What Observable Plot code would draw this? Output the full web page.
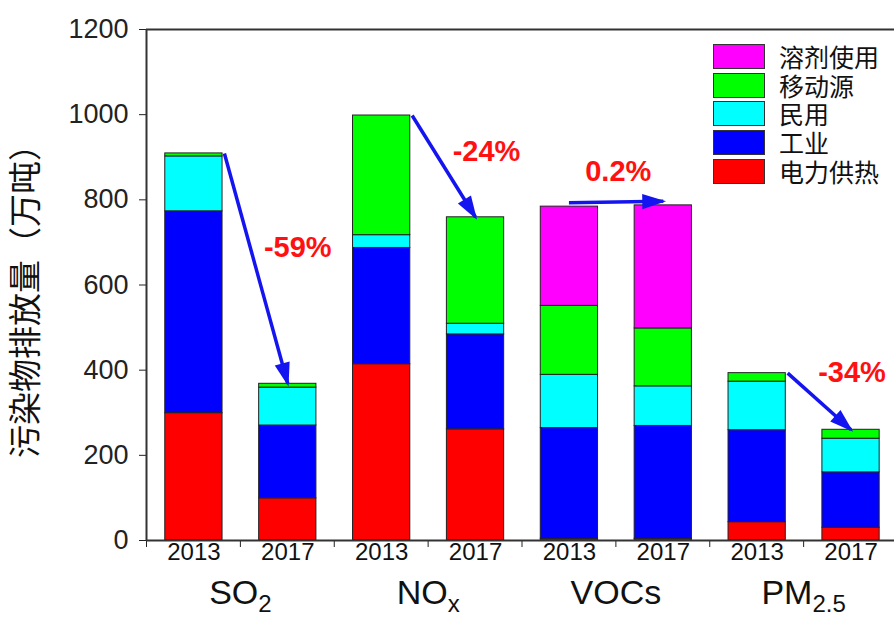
<!DOCTYPE html>
<html>
<head>
<meta charset="utf-8">
<script src="https://cdn.jsdelivr.net/npm/d3@7"></script>
<script src="https://cdn.jsdelivr.net/npm/@observablehq/plot@0.6"></script>
<style>
  body { margin: 0; background: #fff; }
  #wrap { position: relative; width: 894px; height: 626px; overflow: hidden; background: #fff;
          font-family: "Liberation Sans", Arial, "Noto Sans CJK SC", sans-serif; }
  #legend { position: absolute; left: 713px; top: 42px; }
  .row { display: flex; align-items: center; height: 28.75px; }
  .sw { width: 50px; height: 23px; border: 1px solid #333; }
  .lab { margin-left: 14px; font-size: 25px; line-height: 1; color: #111;
         font-family: "Noto Sans CJK SC", sans-serif; }
</style>
</head>
<body>
<div id="wrap"><div id="chart"></div><div id="legend"></div></div>
<script>
// ---------- data ----------
const pollutants = ["SO2", "NOx", "VOCs", "PM2.5"];
const pollutantMain = ["SO", "NO", "VOCs", "PM"];
const pollutantSub = ["2", "x", "", "2.5"];
const years = ["2013", "2017"];
const sectors = ["电力供热", "工业", "民用", "移动源", "溶剂使用"]; // bottom -> top
const sectorColors = ["#ff0000", "#0000ff", "#00ffff", "#00ff00", "#ff00ff"];
// bars in order: SO2 2013, SO2 2017, NOx 2013, NOx 2017, VOCs 2013, VOCs 2017, PM2.5 2013, PM2.5 2017
const power       = [299,  99, 414, 261,   4,   4,  43,  30];
const industry    = [474, 171, 273, 223, 260, 265, 216, 130];
const residential = [129,  89,  30,  25, 125,  93, 114,  79];
const mobile      = [  7,   9, 281, 250, 162, 136,  20,  21];
const solvent     = [  0,   0,   0,   0, 233, 289,   0,   0];
const changeLabels = ["-59%", "-24%", "0.2%", "-34%"];
const yTicks = [0, 200, 400, 600, 800, 1000, 1200];
const yLabel = "污染物排放量（万吨）";

// ---------- derived ----------
const series = [power, industry, residential, mobile, solvent];
const segments = [];
const totals = [];
for (let i = 0; i < power.length; i++) {
  let acc = 0;
  series.forEach((s, k) => {
    if (s[i] > 0) segments.push({i, sector: sectors[k], y1: acc, y2: acc + s[i]});
    acc += s[i];
  });
  totals.push(acc);
}

// ---------- layout (styling only) ----------
const barLeft = 0.2, barRight = 0.81, barMid = 0.505;
const arrowStart = [0.83, 0.83, 0.5, 0.83];   // fraction of band where arrow starts
const arrowLift = [0, 0, -4, 0];              // px
const labelOffset = [[10, -136], [11, -66], [-45, -34], [1, -57]]; // px from 2017 bar top
const arrowColor = "#1414f0";
const gid = d3.range(pollutants.length);

const marks = [
  Plot.rect(segments, {
    x1: d => d.i + barLeft, x2: d => d.i + barRight,
    y1: "y1", y2: "y2", fill: "sector", stroke: "#222", strokeWidth: 1
  }),
  Plot.ruleY([0, 1200], {stroke: "#333", strokeWidth: 2}),
  Plot.ruleX([0], {stroke: "#333", strokeWidth: 2}),
  Plot.text(d3.range(totals.length), {
    x: i => i + barMid, text: i => years[i % 2], frameAnchor: "bottom",
    dy: 19, fontSize: 24, fill: "#111"
  }),
  Plot.text(gid, {
    x: g => 2 * g + 1, text: g => pollutants[g], frameAnchor: "bottom",
    dy: 63, fontSize: 34, fill: "#111"
  }),
  Plot.text([yLabel], {
    text: d => d, frameAnchor: "left", textAnchor: "middle", rotate: -90, dx: -120, dy: 8,
    fontSize: 33, fill: "#111", fontFamily: "Noto Sans CJK SC"
  })
];
gid.forEach(g => {
  marks.push(Plot.link([g], {
    x1: g => 2 * g + arrowStart[g], y1: g => totals[2 * g],
    x2: g => 2 * g + 1 + barMid, y2: g => totals[2 * g + 1],
    stroke: arrowColor, strokeWidth: 3.5, markerEnd: "arrow", dy: arrowLift[g]
  }));
  marks.push(Plot.text([g], {
    x: g => 2 * g + 1 + barMid, y: g => totals[2 * g + 1], text: g => changeLabels[g],
    dx: labelOffset[g][0], dy: labelOffset[g][1],
    fill: "#ff1111", fontSize: 29, fontWeight: "bold"
  }));
});

const chart = Plot.plot({
  width: 894, height: 626,
  marginLeft: 146, marginRight: 0, marginTop: 29, marginBottom: 86,
  x: {domain: [0, 8], range: [146, 897], ticks: d3.range(9), tickFormat: () => "", tickSize: 7, label: null},
  y: {domain: [0, 1200], ticks: yTicks, tickFormat: d => String(d), tickSize: 7, tickPadding: 11, label: null},
  color: {domain: sectors, range: sectorColors},
  style: {fontFamily: "'Liberation Sans', Arial, 'Noto Sans CJK SC', sans-serif", fontSize: "27px",
          color: "#222", background: "white", overflow: "visible"},
  marks
});
document.getElementById("chart").appendChild(chart);

// filled triangular arrow heads
const NS = "http://www.w3.org/2000/svg";
chart.querySelectorAll("marker").forEach(m => {
  const c = m.getAttribute("stroke") || arrowColor;
  m.setAttribute("viewBox", "-6.2 -2.5 7.2 5");
  m.setAttribute("markerWidth", "7.2");
  m.setAttribute("markerHeight", "5");
  m.setAttribute("fill", c);
  m.setAttribute("stroke", "none");
  while (m.firstChild) m.removeChild(m.firstChild);
  const p = document.createElementNS(NS, "path");
  p.setAttribute("d", "M-6,-2.2L0.8,0L-6,2.2Z");
  m.appendChild(p);
});

// subscripts for group labels
chart.querySelectorAll("text").forEach(t => {
  const k = pollutants.indexOf(t.textContent);
  if (k < 0 || !pollutantSub[k]) return;
  t.textContent = "";
  const a = document.createElementNS(NS, "tspan");
  a.textContent = pollutantMain[k];
  const b = document.createElementNS(NS, "tspan");
  b.textContent = pollutantSub[k];
  b.setAttribute("font-size", "24");
  b.setAttribute("dy", "8");
  t.appendChild(a); t.appendChild(b);
});

// legend (top to bottom = reverse of stack order)
const legend = d3.select("#legend");
sectors.slice().reverse().forEach((s) => {
  const row = legend.append("div").attr("class", "row");
  row.append("div").attr("class", "sw").style("background", sectorColors[sectors.indexOf(s)]);
  row.append("div").attr("class", "lab").text(s);
});
</script>
</body>
</html>
